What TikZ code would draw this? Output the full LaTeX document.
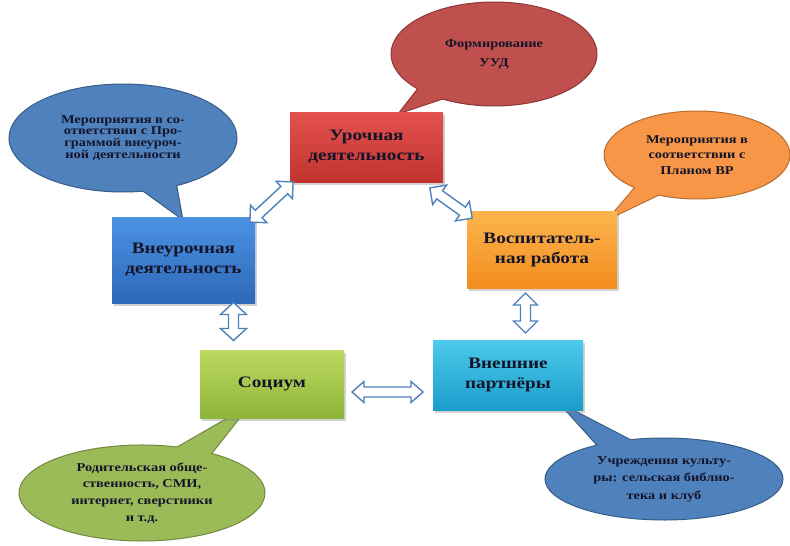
\documentclass[tikz,border=0pt]{standalone}
\usepackage{fontspec}
\setmainfont{Liberation Serif}[FakeStretch=1.2]
\usetikzlibrary{shapes.callouts,shadows}
\definecolor{txt}{HTML}{15152A}
\definecolor{arrblue}{HTML}{4F81BD}
\definecolor{redtop}{HTML}{E3524E}
\definecolor{redbot}{HTML}{C2332F}
\definecolor{bluetop}{HTML}{4C92E2}
\definecolor{bluebot}{HTML}{2D68BA}
\definecolor{orgtop}{HTML}{FCB54E}
\definecolor{orgbot}{HTML}{F38D1E}
\definecolor{grntop}{HTML}{BBDA5F}
\definecolor{grnbot}{HTML}{8FB43A}
\definecolor{cyntop}{HTML}{4DCAEC}
\definecolor{cynbot}{HTML}{1B9DCB}
\definecolor{cred}{HTML}{C0504D}
\definecolor{credd}{HTML}{8C3836}
\definecolor{cblue}{HTML}{4F81BD}
\definecolor{cblued}{HTML}{385D8A}
\definecolor{corg}{HTML}{F79646}
\definecolor{corgd}{HTML}{B66D31}
\definecolor{cgrn}{HTML}{9BBB59}
\definecolor{cgrnd}{HTML}{71893F}
\tikzset{
  blockbox/.style={rectangle, inner sep=0pt, align=center, text=txt,
    font=\fontsize{16}{20}\selectfont\bfseries,
    drop shadow={shadow xshift=2pt, shadow yshift=-2.5pt, opacity=0.35}},
  bubble/.style={ellipse callout, inner sep=0pt, align=center, text=txt,
    line width=1pt, callout pointer arc=18,
    font=\fontsize{12}{#1}\selectfont\bfseries},
  arrshape/.style={draw=arrblue, fill=white, line width=1.4pt, line join=miter},
  pics/dblarr/.style n args={3}{code={
    \path[arrshape] (-#1/2,0) -- (-#1/2+12,-#2) -- (-#1/2+12,-#3) -- (#1/2-12,-#3)
      -- (#1/2-12,-#2) -- (#1/2,0) -- (#1/2-12,#2) -- (#1/2-12,#3)
      -- (-#1/2+12,#3) -- (-#1/2+12,#2) -- cycle;}}
}
\begin{document}
\begin{tikzpicture}[x=1pt,y=-1pt]
\useasboundingbox[fill=white] (0,0) rectangle (790,546);

% callouts
\node[bubble=19, fill=cred, draw=credd, minimum width=206pt, minimum height=104pt,
  callout absolute pointer={(398,114)}] (c1) at (494,54)
  {Формирование\\УУД};
\node[bubble=11.8, fill=cblue, draw=cblued, minimum width=228pt, minimum height=108pt,
  callout absolute pointer={(183,220)}] (c2) at (123,138)
  {Мероприятия в со-\\ответствии с Про-\\граммой внеуроч-\\ной деятельности};
\node[bubble=15.5, fill=corg, draw=corgd, minimum width=186pt, minimum height=88pt,
  callout absolute pointer={(607,220)}] (c3) at (697,155)
  {Мероприятия в\\соответствии с\\Планом ВР};
\node[bubble=16.7, fill=cgrn, draw=cgrnd, minimum width=246pt, minimum height=96pt,
  callout absolute pointer={(250,405)}] (c4) at (142,493)
  {Родительская обще-\\ственность, СМИ,\\интернет, сверстники\\и т.д.};
\node[bubble=17.5, fill=cblue, draw=cblued, minimum width=238pt, minimum height=82pt,
  callout absolute pointer={(558,402)}] (c5) at (664,479)
  {Учреждения культу-\\ры: сельская библио-\\тека и клуб};

% boxes
\node[blockbox, minimum width=153pt, minimum height=70pt,
  top color=redtop, bottom color=redbot] (ur) at (366.5,147)
  {Урочная\\деятельность};
\node[blockbox, minimum width=143pt, minimum height=86pt,
  top color=bluetop, bottom color=bluebot] (vne) at (183.5,260)
  {Внеурочная\\деятельность};
\node[blockbox, minimum width=150pt, minimum height=77pt,
  top color=orgtop, bottom color=orgbot] (vos) at (542,249.5)
  {Воспитатель-\\ная работа};
\node[blockbox, minimum width=144pt, minimum height=68pt,
  top color=grntop, bottom color=grnbot] (soc) at (272,384)
  {Социум};
\node[blockbox, minimum width=150pt, minimum height=70pt,
  top color=cyntop, bottom color=cynbot] (vnp) at (508,375)
  {Внешние\\партнёры};

% double arrows
\pic[rotate=43] at (271.5,202) {dblarr={59}{12}{5}};
\pic[rotate=-35.5] at (451,203) {dblarr={52}{12}{5}};
\pic[rotate=90] at (233.5,321.5) {dblarr={38}{13}{5}};
\pic[rotate=90] at (525.5,313) {dblarr={40}{12}{5}};
\pic at (387.5,392) {dblarr={71}{10.5}{5}};
\end{tikzpicture}
\end{document}
